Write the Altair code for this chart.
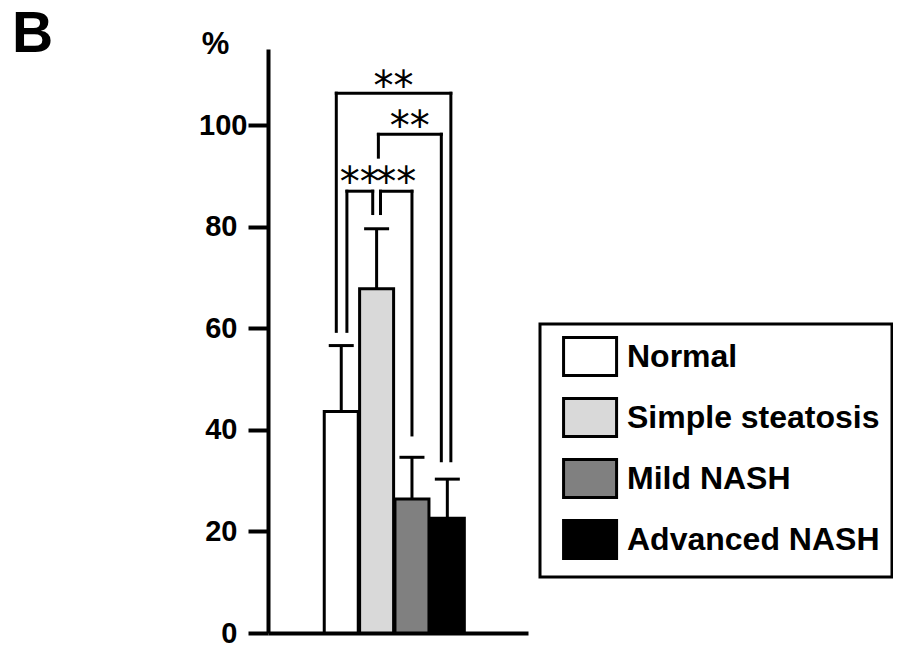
import altair as alt
import pandas as pd

# ---- data ----
groups = ["Normal", "Simple steatosis", "Mild NASH", "Advanced NASH"]
means = [43.6, 67.8, 26.4, 22.6]
upper = [56.6, 79.6, 34.6, 30.3]
fills = ["#ffffff", "#d9d9d9", "#808080", "#000000"]
y_ticks = [0, 20, 40, 60, 80, 100]

# significance brackets (x in group-position units, y in %)
br_left = [-0.14, 1.05, 0.16, 1.11]
br_right = [3.10, 2.83, 0.89, 2.00]
br_top = [106.3, 98.2, 87.0, 87.0]
br_left_end = [59.4, 93.7, 59.4, 82.6]
br_right_end = [33.9, 33.9, 82.6, 39.0]
br_label = ["**", "**", "**", "**"]
br_label_y = [108.9, 101.0, 89.9, 89.9]
panel_label = ["B"]

bars = pd.DataFrame({"idx": list(range(len(groups))), "group": groups,
                     "mean": means, "upper": upper})

segs = []
for i in range(len(br_left)):
    segs.append({"x": br_left[i], "x2": br_right[i], "y": br_top[i], "y2": br_top[i]})
    segs.append({"x": br_left[i], "x2": br_left[i], "y": br_left_end[i], "y2": br_top[i]})
    segs.append({"x": br_right[i], "x2": br_right[i], "y": br_right_end[i], "y2": br_top[i]})
segs = pd.DataFrame(segs)

labels = pd.DataFrame({"x": [(a + b) / 2 for a, b in zip(br_left, br_right)],
                       "y": br_label_y, "t": br_label})

FONT = "Liberation Sans"
xscale = alt.Scale(domain=[-1.93, 5.14], nice=False, zero=False)
yscale = alt.Scale(domain=[0, 115], nice=False)
xaxis = alt.Axis(labels=False, ticks=False, title=None, grid=False,
                 domainWidth=4, domainColor="black")
yaxis = alt.Axis(values=y_ticks, grid=False, title="%", titleAngle=0,
                 titleX=-53, titleY=4, titleAlign="center", titleBaseline="alphabetic",
                 titleFont=FONT, titleFontSize=31, titleFontWeight="bold", titleColor="black",
                 labelFont=FONT, labelFontSize=29, labelFontWeight="bold", labelColor="black",
                 labelPadding=alt.condition("datum.value === 100", alt.value(1), alt.value(11)),
                 tickSize=20, tickWidth=4, tickColor="black",
                 domainWidth=4, domainColor="black")


def X(field):
    return alt.X(field, type="quantitative", scale=xscale, axis=xaxis)


def Y(field):
    return alt.Y(field, type="quantitative", scale=yscale, axis=yaxis)


bar_layer = alt.Chart(bars).mark_bar(size=34, stroke="black", strokeWidth=3).encode(
    x=X("idx"), y=Y("mean"),
    color=alt.Color("group:N", sort=groups,
                    scale=alt.Scale(domain=groups, range=fills),
                    legend=alt.Legend(title=None, orient="none", legendX=272, legendY=275,
                                      padding=12, fillColor="white",
                                      labelFont=FONT, labelFontSize=32, labelFontWeight="bold",
                                      labelColor="black", labelLimit=0, labelOffset=34,
                                      symbolType="M-0.47,-1H2.32V1H-0.47Z", symbolSize=1444,
                                      symbolStrokeColor="black", symbolStrokeWidth=3,
                                      symbolOpacity=1, rowPadding=10)),
)

err_rule = alt.Chart(bars).mark_rule(color="black", strokeWidth=3).encode(
    x=X("idx"), y=Y("mean"), y2="upper")
err_cap = alt.Chart(bars).mark_tick(orient="horizontal", size=25, thickness=3,
                                    color="black", opacity=1).encode(
    x=X("idx"), y=Y("upper"))

br_rules = alt.Chart(segs).mark_rule(color="black", strokeWidth=3, strokeCap="square").encode(
    x=X("x"), x2="x2", y=Y("y"), y2="y2")

stars = alt.Chart(labels).mark_text(font="DejaVu Sans", fontSize=40, align="center",
                                    baseline="middle", dy=8, color="black").encode(
    x=X("x"), y=Y("y"), text="t")

panel = alt.Chart(pd.DataFrame({"t": panel_label})).mark_text(
    font=FONT, fontSize=57, fontWeight="bold", align="left", baseline="alphabetic",
    color="black").encode(x=alt.value(-256), y=alt.value(3), text="t")

chart = alt.layer(bar_layer, err_rule, err_cap, br_rules, stars, panel).properties(
    width=260, height=584,
    autosize=alt.AutoSizeParams(type="none"),
    padding={"left": 260, "top": 41, "right": 365, "bottom": 15},
).configure_view(stroke=None).configure_legend(strokeColor="black", strokeWidth=3)

chart.save("out.html", embed_options={"renderer": "svg", "actions": False})
